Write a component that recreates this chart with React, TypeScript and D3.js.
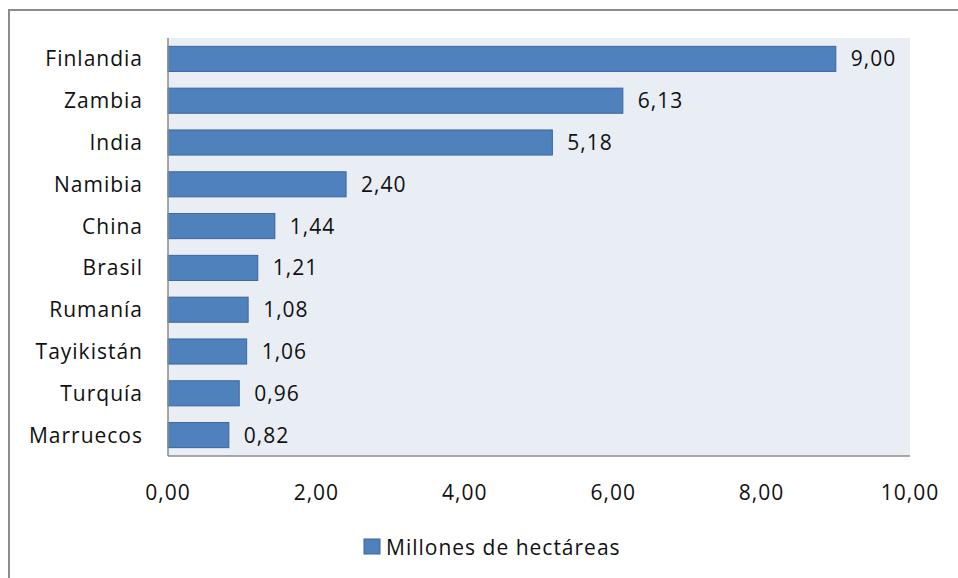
import React from "react";
import * as d3 from "d3";

const categories = ["Finlandia", "Zambia", "India", "Namibia", "China", "Brasil", "Rumanía", "Tayikistán", "Turquía", "Marruecos"];
const values = [9.0, 6.13, 5.18, 2.4, 1.44, 1.21, 1.08, 1.06, 0.96, 0.82];
const ticks = [0, 2, 4, 6, 8, 10];
const seriesName = "Millones de hectáreas";

const W = 958, H = 578;
const plot = { left: 168, right: 910, top: 38, bottom: 456 };
const font = "'Open Sans', sans-serif";
const fs = 21;
const ls = 1;
const fmt = (v: number) => v.toFixed(2).replace(".", ",");

export default function App() {
  const x = d3.scaleLinear().domain([0, 10]).range([plot.left, plot.right]);
  const y = d3.scaleBand().domain(categories).range([plot.top, plot.bottom]).paddingInner(0.4).paddingOuter(0.2);
  return (
    <svg width={W} height={H} style={{ position: "absolute", left: 0, top: 0 }}>
      <rect x={0} y={0} width={W} height={H} fill="#fff" />
      <rect x={9} y={10} width={W} height={H} fill="#fff" stroke="#8c8c8c" strokeWidth={2} />
      <rect x={plot.left} y={plot.top} width={plot.right - plot.left} height={plot.bottom - plot.top} fill="#e9edf4" />
      {categories.map((c, i) => (
        <g key={c}>
          <rect x={x(0)} y={y(c)!} width={x(values[i]) - x(0)} height={y.bandwidth()} fill="#4f81bd" stroke="#3a65a0" strokeWidth={1} />
          <text x={x(values[i]) + 15} y={y(c)! + y.bandwidth() / 2} dy="0.36em" fontFamily={font} fontSize={fs} letterSpacing={ls} fill="#111">{fmt(values[i])}</text>
          <text x={143} y={y(c)! + y.bandwidth() / 2} dy="0.36em" textAnchor="end" fontFamily={font} fontSize={fs} letterSpacing={ls} fill="#111">{c}</text>
        </g>
      ))}
      <line x1={plot.left} x2={plot.left} y1={plot.top} y2={plot.bottom} stroke="#8c8c8c" strokeWidth={1.5} />
      <line x1={plot.left} x2={plot.right} y1={plot.bottom} y2={plot.bottom} stroke="#8c8c8c" strokeWidth={1.5} />
      {ticks.map((t) => (
        <text key={t} x={x(t)} y={492} dy="0.36em" textAnchor="middle" fontFamily={font} fontSize={fs} letterSpacing={ls} fill="#111">{fmt(t)}</text>
      ))}
      <rect x={364} y={539} width={16} height={15} fill="#4f81bd" stroke="#3a65a0" />
      <text x={386} y={547} dy="0.36em" fontFamily={font} fontSize={fs} letterSpacing={ls} fill="#111">{seriesName}</text>
    </svg>
  );
}
